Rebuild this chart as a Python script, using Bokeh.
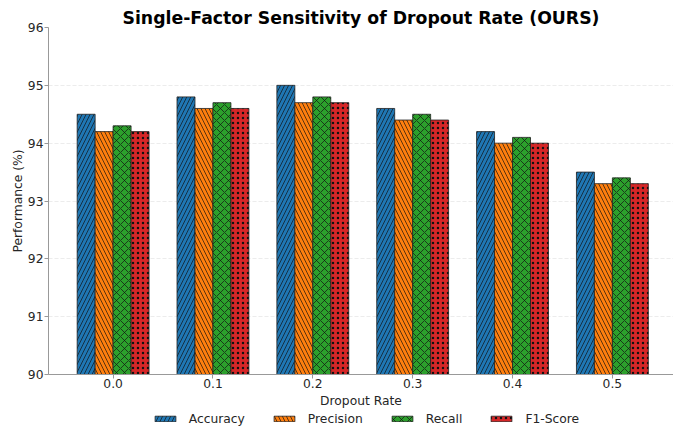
from bokeh.plotting import figure
from bokeh.models import ColumnDataSource, Range1d, FixedTicker, Legend, LegendItem
from bokeh.layouts import column
from bokeh.transform import dodge
from bokeh.embed import file_html
from bokeh.resources import INLINE

# ---- data ----
dropout_labels = ["0.0", "0.1", "0.2", "0.3", "0.4", "0.5"]
accuracy = [94.5, 94.8, 95.0, 94.6, 94.2, 93.5]
precision = [94.2, 94.6, 94.7, 94.4, 94.0, 93.3]
recall = [94.3, 94.7, 94.8, 94.5, 94.1, 93.4]
f1_score = [94.2, 94.6, 94.7, 94.4, 94.0, 93.3]
series_names = ["Accuracy", "Precision", "Recall", "F1-Score"]
y_ticks = [90, 91, 92, 93, 94, 95, 96]

FONT = "DejaVu Sans"
src = ColumnDataSource(dict(
    x=list(range(len(dropout_labels))),
    Accuracy=accuracy, Precision=precision, Recall=recall, F1=f1_score,
))

p = figure(width=673, height=410, output_backend="svg", toolbar_location=None,
           x_range=Range1d(-0.647, 5.612), y_range=Range1d(90, 96),
           min_border_left=48, min_border_right=0, min_border_top=27,
           min_border_bottom=36,
           title="Single-Factor Sensitivity of Dropout Rate (OURS)")
p.outline_line_color = None
p.background_fill_color = "white"
p.border_fill_color = "white"

p.title.align = "center"
p.title.text_font = FONT
p.title.text_font_size = "17.3px"
p.title.text_font_style = "bold"
p.title.text_color = "black"
p.title.standoff = 0
p.title.offset = 1

colors = ["#1f77b4", "#ff7f0e", "#2ca02c", "#d62728"]
hatches = ["/", "\\", "x", "."]
scales = [8, 8, 8, 5]
weights = [0.7, 0.7, 0.7, 0.5]
keys = ["Accuracy", "Precision", "Recall", "F1"]
offsets = [-0.27, -0.09, 0.09, 0.27]
style = dict(line_color="#222222", line_width=0.8, hatch_color="#111111")

for key, c, h, s, w, off in zip(keys, colors, hatches, scales, weights, offsets):
    p.vbar(x=dodge("x", off, range=p.x_range), top=key, bottom=90, width=0.18,
           source=src, fill_color=c, hatch_pattern=h, hatch_scale=s,
           hatch_weight=w, **style)

# axes
p.xaxis.ticker = FixedTicker(ticks=list(range(len(dropout_labels))))
p.xaxis.major_label_overrides = {i: lab for i, lab in enumerate(dropout_labels)}
p.yaxis.ticker = FixedTicker(ticks=y_ticks)
for ax in (p.xaxis, p.yaxis):
    ax.axis_line_color = "#999999"
    ax.major_tick_line_color = "#999999"
    ax.major_tick_out = 4
    ax.major_tick_in = 0
    ax.minor_tick_line_color = None
    ax.major_label_text_font = FONT
    ax.major_label_text_font_size = "12.3px"
    ax.major_label_text_color = "#262626"
    ax.axis_label_text_font = FONT
    ax.axis_label_text_font_size = "12.3px"
    ax.axis_label_text_font_style = "normal"
    ax.axis_label_text_color = "#262626"
p.xaxis.major_label_standoff = 0
p.yaxis.major_label_standoff = 1
p.xaxis.axis_label = "Dropout Rate"
p.yaxis.axis_label = "Performance (%)"
p.xaxis.axis_label_standoff = 3
p.yaxis.axis_label_standoff = 0

p.xgrid.visible = False
p.ygrid.grid_line_color = "#dddddd"
p.ygrid.grid_line_alpha = 0.7
p.ygrid.grid_line_dash = "4 2"
p.ygrid.grid_line_width = 0.8

# ---- legend strip below the chart (its bars lie far outside its ranges) ----
lg = figure(width=673, height=18, output_backend="svg", toolbar_location=None,
            x_axis_location=None, y_axis_location=None,
            x_range=Range1d(100, 106), y_range=Range1d(1000, 1001),
            min_border_left=48, min_border_right=0, min_border_top=0, min_border_bottom=0)
lg.outline_line_color = None
lg.grid.visible = False
items = []
for key, name, c, h, s, w in zip(keys, series_names, colors, hatches, scales, weights):
    r = lg.vbar(x="x", top=key, bottom=90, width=0.18, source=src, fill_color=c,
                hatch_pattern=h, hatch_scale=s, hatch_weight=w, **style)
    items.append(LegendItem(label=name, renderers=[r]))

legend = Legend(items=items, orientation="horizontal", location=(103.7, 1.5),
                glyph_width=26, glyph_height=7, label_standoff=11, spacing=26,
                padding=0, margin=0, border_line_color=None,
                background_fill_alpha=0,
                label_text_font=FONT, label_text_font_size="12.3px",
                label_text_color="#262626", label_height=16)
lg.add_layout(legend, "center")

open("out.html", "w").write(file_html(column(p, lg, spacing=0), INLINE))
